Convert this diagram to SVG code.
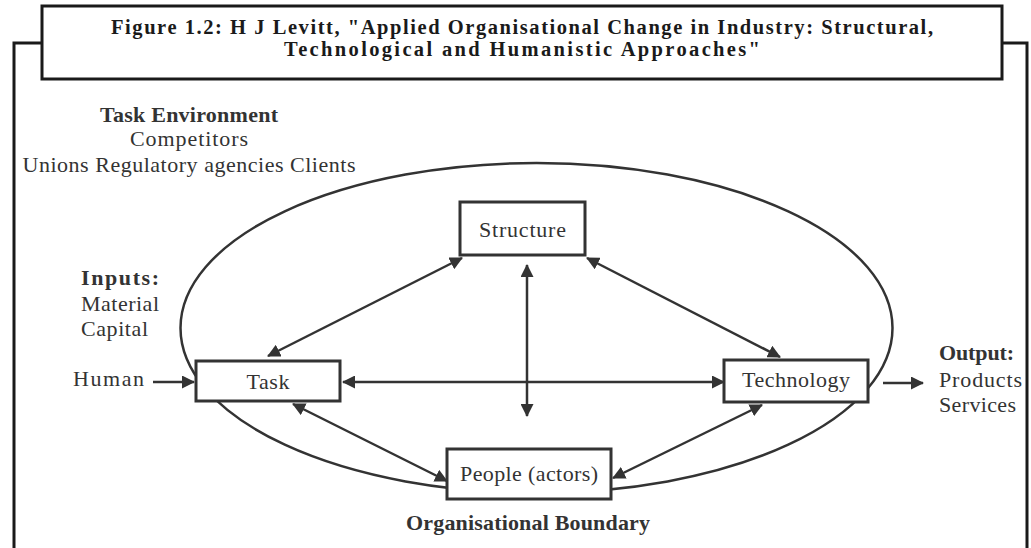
<svg xmlns="http://www.w3.org/2000/svg" width="1031" height="548" viewBox="0 0 1031 548">
<defs>
<style>
.frame{fill:none;stroke:#1a1a1a;stroke-width:3}
.box{fill:#fff;stroke:#333;stroke-width:3}
.conn{stroke:#333;stroke-width:2.5;fill:none}
.t{font-family:"Liberation Serif","Times New Roman",serif;font-size:22px;fill:#333}
.b{font-weight:bold}
.title{font-family:"Liberation Serif","Times New Roman",serif;font-size:20.5px;font-weight:bold;fill:#1a1a1a}
</style>
<marker id="ah" viewBox="0 0 13 13" markerWidth="13" markerHeight="13" refX="12" refY="6.5" orient="auto-start-reverse" markerUnits="userSpaceOnUse">
<path d="M0,0 L13,6.5 L0,13 Z" fill="#333"/>
</marker>
</defs>
<rect width="1031" height="548" fill="#fff"/>
<g id="frame">
<path class="frame" d="M14,548 V43 H42"/>
<path class="frame" d="M1002,43 H1027 V548"/>
</g>
<g id="title">
<rect x="42" y="6" width="960" height="73" fill="#fff" stroke="#1a1a1a" stroke-width="3"/>
<text class="title" x="522" y="34" text-anchor="middle" textLength="822" lengthAdjust="spacing">Figure 1.2: H J Levitt, "Applied Organisational Change in Industry: Structural,</text>
<text class="title" x="522" y="56" text-anchor="middle" textLength="476" lengthAdjust="spacing">Technological and Humanistic Approaches"</text>
</g>
<g id="environment">
<text class="t b" x="189" y="122" text-anchor="middle" textLength="178" lengthAdjust="spacing">Task Environment</text>
<text class="t" x="189" y="146" text-anchor="middle" textLength="118" lengthAdjust="spacing">Competitors</text>
<text class="t" x="189" y="172" text-anchor="middle" textLength="333" lengthAdjust="spacing">Unions Regulatory agencies Clients</text>
</g>
<g id="boundary">
<ellipse cx="536.5" cy="328" rx="356" ry="165" fill="none" stroke="#333" stroke-width="2.5"/>
<text class="t b" x="528" y="530" text-anchor="middle" textLength="244" lengthAdjust="spacing">Organisational Boundary</text>
</g>
<g id="inputs">
<text class="t b" x="81" y="285" textLength="78" lengthAdjust="spacing">Inputs:</text>
<text class="t" x="81" y="311" textLength="78" lengthAdjust="spacing">Material</text>
<text class="t" x="81" y="336" textLength="67" lengthAdjust="spacing">Capital</text>
<text class="t" x="144" y="386" text-anchor="end" textLength="71" lengthAdjust="spacing">Human</text>
</g>
<g id="outputs">
<text class="t b" x="939" y="360" textLength="75" lengthAdjust="spacing">Output:</text>
<text class="t" x="939" y="387" textLength="83" lengthAdjust="spacing">Products</text>
<text class="t" x="939" y="412" textLength="77" lengthAdjust="spacing">Services</text>
</g>
<g id="connectors">
<line class="conn" x1="153" y1="382" x2="194" y2="382" marker-end="url(#ah)"/>
<line class="conn" x1="883" y1="383" x2="923" y2="383" marker-end="url(#ah)"/>
<line class="conn" x1="343" y1="382" x2="724" y2="382" marker-start="url(#ah)" marker-end="url(#ah)"/>
<line class="conn" x1="527" y1="265" x2="527" y2="416" stroke-width="3" marker-start="url(#ah)" marker-end="url(#ah)"/>
<line class="conn" x1="462" y1="258" x2="268" y2="356" marker-start="url(#ah)" marker-end="url(#ah)"/>
<line class="conn" x1="587" y1="258" x2="780" y2="357" marker-start="url(#ah)" marker-end="url(#ah)"/>
<line class="conn" x1="293" y1="404" x2="447" y2="481" stroke-width="3" marker-start="url(#ah)" marker-end="url(#ah)"/>
<line class="conn" x1="613" y1="478" x2="762" y2="405" marker-start="url(#ah)" marker-end="url(#ah)"/>
</g>
<g id="structure">
<rect class="box" x="460" y="202" width="125" height="53"/>
<text class="t" x="522.5" y="237" text-anchor="middle" textLength="87" lengthAdjust="spacing">Structure</text>
</g>
<g id="task">
<rect class="box" x="196" y="361" width="144" height="40"/>
<text class="t" x="268" y="389" text-anchor="middle" textLength="43" lengthAdjust="spacing">Task</text>
</g>
<g id="technology">
<rect class="box" x="724" y="360" width="144" height="42"/>
<text class="t" x="796" y="387" text-anchor="middle" textLength="108" lengthAdjust="spacing">Technology</text>
</g>
<g id="people">
<rect class="box" x="447" y="449" width="164" height="50"/>
<text class="t" x="529" y="481" text-anchor="middle" textLength="138" lengthAdjust="spacing">People (actors)</text>
</g>
</svg>
